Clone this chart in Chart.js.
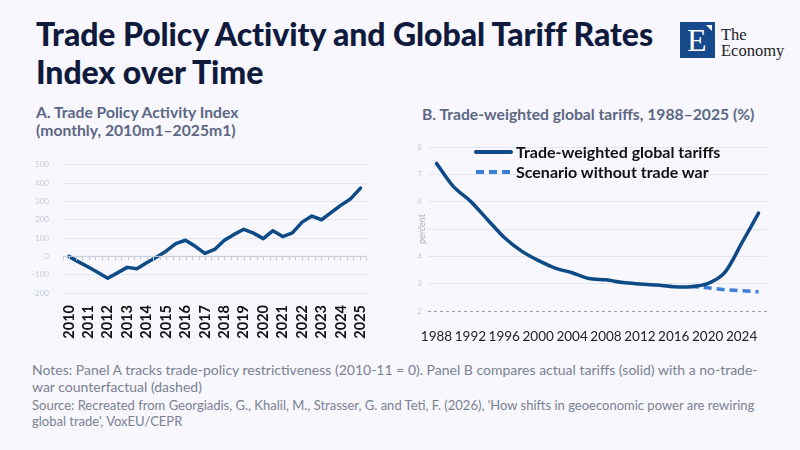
<!DOCTYPE html>
<html>
<head>
<meta charset="utf-8">
<script src="https://cdn.jsdelivr.net/npm/chart.js@4.4.1/dist/chart.umd.min.js"></script>
<style>
    html, body { margin:0; padding:0; }
    body { width:800px; height:450px; background:#f7f7fd; position:relative; overflow:hidden; font-family:Lato, "Noto Sans", sans-serif; }
    .title { position:absolute; left:36px; top:15px; font-size:32px; line-height:38px; font-weight:900; color:#0f1a3c; letter-spacing:-0.1px; }
    .sub { position:absolute; font-size:15.7px; line-height:18px; font-weight:700; color:#5d6784; }
    .notes { position:absolute; left:32px; top:361px; width:740px; font-size:14px; line-height:17px; color:#7b8192; }
    .source { position:absolute; left:32px; top:397px; width:740px; font-size:13px; line-height:16px; color:#7b8192; }
    .box { position:absolute; }
    .legend { position:absolute; left:474px; top:142px; font-size:16px; font-weight:700; color:#111; }
    .legend div { height:20px; line-height:20px; display:flex; align-items:center; }
    .legend svg { margin-right:3px; }
    .logo { position:absolute; left:680px; top:22px; width:35px; height:36px; background:#174a8b; }
    .logo .e { position:absolute; left:7px; top:1px; font-family:"Liberation Serif", serif; font-size:32px; line-height:34px; color:#fff; }
    .logo .tri { position:absolute; left:26px; top:3px; width:6px; height:6px; background:#fff; clip-path:polygon(0 0, 100% 0, 100% 100%); }
    .brand { position:absolute; left:721px; top:27px; font-family:"Liberation Serif", serif; font-size:16.5px; line-height:16px; color:#222; }
</style>
</head>
<body>
<div class="title">Trade Policy Activity and Global Tariff Rates<br>Index over Time</div>
<div class="logo"><span class="e">E</span><span class="tri"></span></div>
<div class="brand">The<br>Economy</div>

<div class="sub" style="left:36px; top:103px;">A. Trade Policy Activity Index<br>(monthly, 2010m1–2025m1)</div>
<div class="sub" style="left:422px; top:105px;">B. Trade-weighted global tariffs, 1988–2025 (%)</div>

<div class="box" style="left:20px; top:146px; width:362px; height:196px;"><canvas id="chartA"></canvas></div>
<div class="box" style="left:405px; top:136px; width:368px; height:206px;"><canvas id="chartB"></canvas></div>

<div class="legend">
    <div><svg width="39" height="6"><line x1="2" y1="3" x2="37" y2="3" stroke="#0e4a86" stroke-width="4" stroke-linecap="round"/></svg>Trade-weighted global tariffs</div>
    <div><svg width="39" height="6"><line x1="2" y1="3" x2="37" y2="3" stroke="#3d7fd9" stroke-width="4" stroke-dasharray="8 5"/></svg>Scenario without trade war</div>
</div>

<div class="notes">Notes: Panel A tracks trade-policy restrictiveness (2010-11 = 0). Panel B compares actual tariffs (solid) with a no-trade-war counterfactual (dashed)</div>
<div class="source">Source: Recreated from Georgiadis, G., Khalil, M., Strasser, G. and Teti, F. (2026), 'How shifts in geoeconomic power are rewiring global trade', VoxEU/CEPR</div>

<script>
// Panel A data (read at half-year steps)
const activityDates = [2010, 2010.5, 2011, 2011.5, 2012, 2012.5, 2013, 2013.5, 2014, 2014.5, 2015, 2015.5, 2016, 2016.5, 2017, 2017.5,
    2018, 2018.5, 2019, 2019.5, 2020, 2020.5, 2021, 2021.5, 2022, 2022.5, 2023, 2023.5, 2024, 2024.5, 2025];
const activityIndex = [0, -30, -58, -88, -119, -90, -60, -68, -35, -5, 28, 70, 88, 55, 16, 38,
    88, 120, 148, 127, 97, 140, 108, 128, 187, 220, 200, 240, 280, 315, 373];
const activityYearTicks = [2010, 2011, 2012, 2013, 2014, 2015, 2016, 2017, 2018, 2019, 2020, 2021, 2022, 2023, 2024, 2025];

// Panel B data (every two years)
const tariffYears = ['1988', '1990', '1992', '1994', '1996', '1998', '2000', '2002', '2004', '2006',
    '2008', '2010', '2012', '2014', '2016', '2018', '2020', '2022', '2024', '2026'];
const tariffActual = [7.4, 6.55, 6.02, 5.35, 4.69, 4.2, 3.85, 3.57, 3.4, 3.19,
    3.14, 3.04, 2.99, 2.95, 2.89, 2.89, 3.0, 3.4, 4.47, 5.58];
const tariffNoWar = [null, null, null, null, null, null, null, null, null, null,
    null, null, null, null, null, 2.9, 2.85, 2.78, 2.74, 2.7];

const navy = '#0e4a86';
const lightBlue = '#3d7fd9';
const faint = '#c5cddb';
const gridCol = '#e2e6f0';

// x axis line with small ticks on the zero line of panel A
const zeroAxis = {
    id: 'zeroAxis',
    afterDatasetsDraw(chart) {
        const {ctx, chartArea, scales} = chart;
        const y0 = scales.y.getPixelForValue(0);
        ctx.save();
        ctx.strokeStyle = '#c3cbd8';
        ctx.lineWidth = 1;
        ctx.beginPath();
        ctx.moveTo(chartArea.left, y0);
        ctx.lineTo(chartArea.right, y0);
        const step = (chartArea.right - chartArea.left) / 47;
        for (let i = 0; i <= 47; i++) {
            const x = Math.round(chartArea.left + i * step) + 0.5;
            ctx.moveTo(x, y0);
            ctx.lineTo(x, y0 + 4);
        }
        ctx.stroke();
        ctx.restore();
    }
};

new Chart(document.getElementById('chartA').getContext('2d'), {
    type: 'line',
    data: {
        datasets: [{
            data: activityDates.map((d, i) => ({x: d, y: activityIndex[i]})),
            borderColor: navy,
            borderWidth: 3.5,
            pointRadius: 0,
            tension: 0,
            borderJoinStyle: 'round',
            borderCapStyle: 'round',
        }]
    },
    options: {
        responsive: true,
        maintainAspectRatio: false,
        animation: false,
        layout: { padding: { top: 10, right: 7, left: 0, bottom: 0 } },
        plugins: { legend: { display: false }, tooltip: { enabled: false } },
        scales: {
            x: {
                type: 'linear',
                min: 2009.7,
                max: 2025.3,
                afterBuildTicks: (scale) => { scale.ticks = activityYearTicks.map(v => ({value: v})); },
                afterFit: (scale) => { scale.height = 49; },
                grid: { display: false },
                border: { display: false },
                ticks: {
                    minRotation: 90,
                    maxRotation: 90,
                    autoSkip: false,
                    padding: 4,
                    color: '#111',
                    font: { family: 'Lato', size: 14.5, weight: '700' },
                    callback: (v) => String(v),
                },
            },
            y: {
                min: -200,
                max: 500,
                afterFit: (scale) => { scale.width = 43; },
                grid: { color: gridCol, drawTicks: false },
                border: { display: false },
                ticks: { stepSize: 100, padding: 14, color: faint, font: { family: 'Lato', size: 8 } },
            },
        },
    },
    plugins: [zeroAxis],
});

new Chart(document.getElementById('chartB').getContext('2d'), {
    type: 'line',
    data: {
        labels: tariffYears,
        datasets: [{
            label: 'Trade-weighted global tariffs',
            data: tariffActual,
            borderColor: navy,
            borderWidth: 3.5,
            pointRadius: 0,
            tension: 0.3,
            borderCapStyle: 'round',
        }, {
            label: 'Scenario without trade war',
            data: tariffNoWar,
            borderColor: lightBlue,
            borderWidth: 3.5,
            borderDash: [8, 5],
            pointRadius: 0,
            tension: 0,
        }]
    },
    options: {
        responsive: true,
        maintainAspectRatio: false,
        animation: false,
        layout: { padding: { top: 11, right: 6, left: 0, bottom: 0 } },
        plugins: { legend: { display: false }, tooltip: { enabled: false } },
        scales: {
            x: {
                offset: true,
                afterFit: (scale) => { scale.height = 31; },
                grid: { display: false },
                border: { display: false },
                ticks: {
                    autoSkip: false,
                    maxRotation: 0,
                    padding: 10,
                    color: '#222',
                    font: { family: 'Lato', size: 13.5 },
                    callback: (v, i) => i % 2 === 0 ? tariffYears[i] : '',
                },
            },
            y: {
                min: 2,
                max: 8,
                afterFit: (scale) => { scale.width = 23; },
                title: { display: true, text: 'percent', color: '#a9b1c2', font: { family: 'Lato', size: 9 }, padding: { top: 12, bottom: 0 } },
                grid: {
                    drawTicks: false,
                    color: (c) => c.tick && c.tick.value === 2 ? '#9a9a9a' : gridCol,
                },
                border: {
                    display: false,
                    dash: (c) => c.tick && c.tick.value === 2 ? [3, 3] : [],
                },
                ticks: { stepSize: 1, padding: 6, color: faint, font: { family: 'Lato', size: 8 } },
            },
        },
    },
});
</script>
</body>
</html>
